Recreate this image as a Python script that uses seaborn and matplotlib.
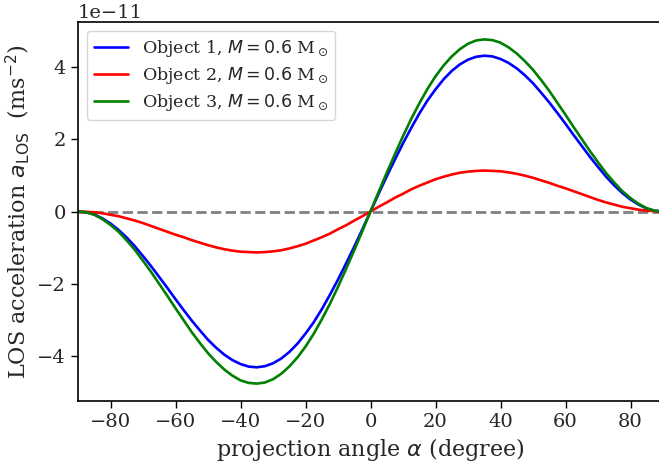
import matplotlib
matplotlib.use("Agg")
import matplotlib.pyplot as plt
import seaborn as sns
import numpy as np
import pandas as pd

# projection angle (degree), 2.5 degree steps
alpha = [-90, -87.5, -85, -82.5, -80, -77.5, -75, -72.5, -70, -67.5, -65, -62.5, -60, -57.5, -55, -52.5,
         -50, -47.5, -45, -42.5, -40, -37.5, -35, -32.5, -30, -27.5, -25, -22.5, -20, -17.5, -15, -12.5,
         -10, -7.5, -5, -2.5, 0, 2.5, 5, 7.5, 10, 12.5, 15, 17.5, 20, 22.5, 25, 27.5, 30, 32.5, 35, 37.5,
         40, 42.5, 45, 47.5, 50, 52.5, 55, 57.5, 60, 62.5, 65, 67.5, 70, 72.5, 75, 77.5, 80, 82.5, 85, 87.5, 90]

# LOS acceleration in units of 1e-11 m s^-2
obj1 = [0.00, -0.02, -0.08, -0.19, -0.33, -0.51, -0.72, -0.96, -1.23, -1.51, -1.81, -2.11, -2.42, -2.72, -3.01, -3.28,
        -3.54, -3.76, -3.95, -4.10, -4.21, -4.28, -4.30, -4.27, -4.19, -4.06, -3.88, -3.65, -3.37, -3.06, -2.70, -2.30,
        -1.88, -1.43, -0.97, -0.49, 0.00, 0.49, 0.97, 1.43, 1.88, 2.30, 2.70, 3.06, 3.37, 3.65, 3.88, 4.06, 4.19, 4.27, 4.30, 4.28,
        4.21, 4.10, 3.95, 3.76, 3.54, 3.28, 3.01, 2.72, 2.42, 2.11, 1.81, 1.51, 1.23, 0.96, 0.72, 0.51, 0.33, 0.19, 0.08, 0.02, 0.00]
obj2 = [0.00, -0.01, -0.02, -0.05, -0.09, -0.13, -0.19, -0.25, -0.32, -0.40, -0.48, -0.56, -0.64, -0.71, -0.79, -0.86,
        -0.93, -0.99, -1.04, -1.08, -1.11, -1.12, -1.13, -1.12, -1.10, -1.07, -1.02, -0.96, -0.89, -0.80, -0.71, -0.61,
        -0.49, -0.38, -0.25, -0.13, 0.00, 0.13, 0.25, 0.38, 0.49, 0.61, 0.71, 0.80, 0.89, 0.96, 1.02, 1.07, 1.10, 1.12, 1.13, 1.12,
        1.11, 1.08, 1.04, 0.99, 0.93, 0.86, 0.79, 0.71, 0.64, 0.56, 0.48, 0.40, 0.32, 0.25, 0.19, 0.13, 0.09, 0.05, 0.02, 0.01, 0.00]
obj3 = [0.00, -0.02, -0.09, -0.21, -0.37, -0.56, -0.80, -1.06, -1.36, -1.67, -2.00, -2.33, -2.67, -3.00, -3.33, -3.63,
        -3.91, -4.15, -4.36, -4.53, -4.66, -4.73, -4.75, -4.72, -4.63, -4.48, -4.28, -4.03, -3.73, -3.38, -2.98, -2.55,
        -2.08, -1.58, -1.07, -0.54, 0.00, 0.54, 1.07, 1.58, 2.08, 2.55, 2.98, 3.38, 3.73, 4.03, 4.28, 4.48, 4.63, 4.72, 4.75, 4.73,
        4.66, 4.53, 4.36, 4.15, 3.91, 3.63, 3.33, 3.00, 2.67, 2.33, 2.00, 1.67, 1.36, 1.06, 0.80, 0.56, 0.37, 0.21, 0.09, 0.02, 0.00]
SCALE = 1e-11

labels = [r"Object 1, $M=0.6$ M$_\odot$",
          r"Object 2, $M=0.6$ M$_\odot$",
          r"Object 3, $M=0.6$ M$_\odot$"]
colors = ["blue", "red", "green"]

frames = []
for lab, vals in zip(labels, [obj1, obj2, obj3]):
    frames.append(pd.DataFrame({"alpha": alpha,
                                "acc": np.array(vals) * SCALE,
                                "obj": lab}))
df = pd.concat(frames, ignore_index=True)

sns.set_theme(style="ticks")
plt.rcParams["font.family"] = ["DejaVu Serif"]
plt.rcParams["mathtext.fontset"] = "dejavusans"

fig = plt.figure(figsize=(6.59, 4.67), dpi=100)
ax = fig.add_axes([78 / 659, 1 - 401 / 467, (663 - 78) / 659, (401 - 22) / 467])

ax.axhline(0, color="gray", linestyle="--", linewidth=2, zorder=1)
sns.lineplot(data=df, x="alpha", y="acc", hue="obj", palette=dict(zip(labels, colors)),
             linewidth=1.9, ax=ax, sort=True, zorder=2)

ax.set_xlim(-90, 90)
ax.set_ylim(-5.23e-11, 5.23e-11)
ax.set_xticks([-80, -60, -40, -20, 0, 20, 40, 60, 80])
ax.set_yticks(np.array([-4, -2, 0, 2, 4]) * SCALE)

ax.set_xlabel(r"projection angle $\alpha$ (degree)", fontsize=16)
ax.set_ylabel(r"LOS acceleration $a_{\rm LOS}$  (ms$^{-2}$)", fontsize=16)
ax.tick_params(labelsize=14, direction="out", length=5, width=1, color="black")
ax.yaxis.get_offset_text().set_fontsize(14)
for s in ax.spines.values():
    s.set_color("black")
    s.set_linewidth(1.2)

leg = ax.legend(loc="upper left", fontsize=12.5, frameon=True, handlelength=2.0,
                labelspacing=0.35, borderaxespad=0.5)
leg.set_title(None)

fig.savefig("out.png", dpi=100)
